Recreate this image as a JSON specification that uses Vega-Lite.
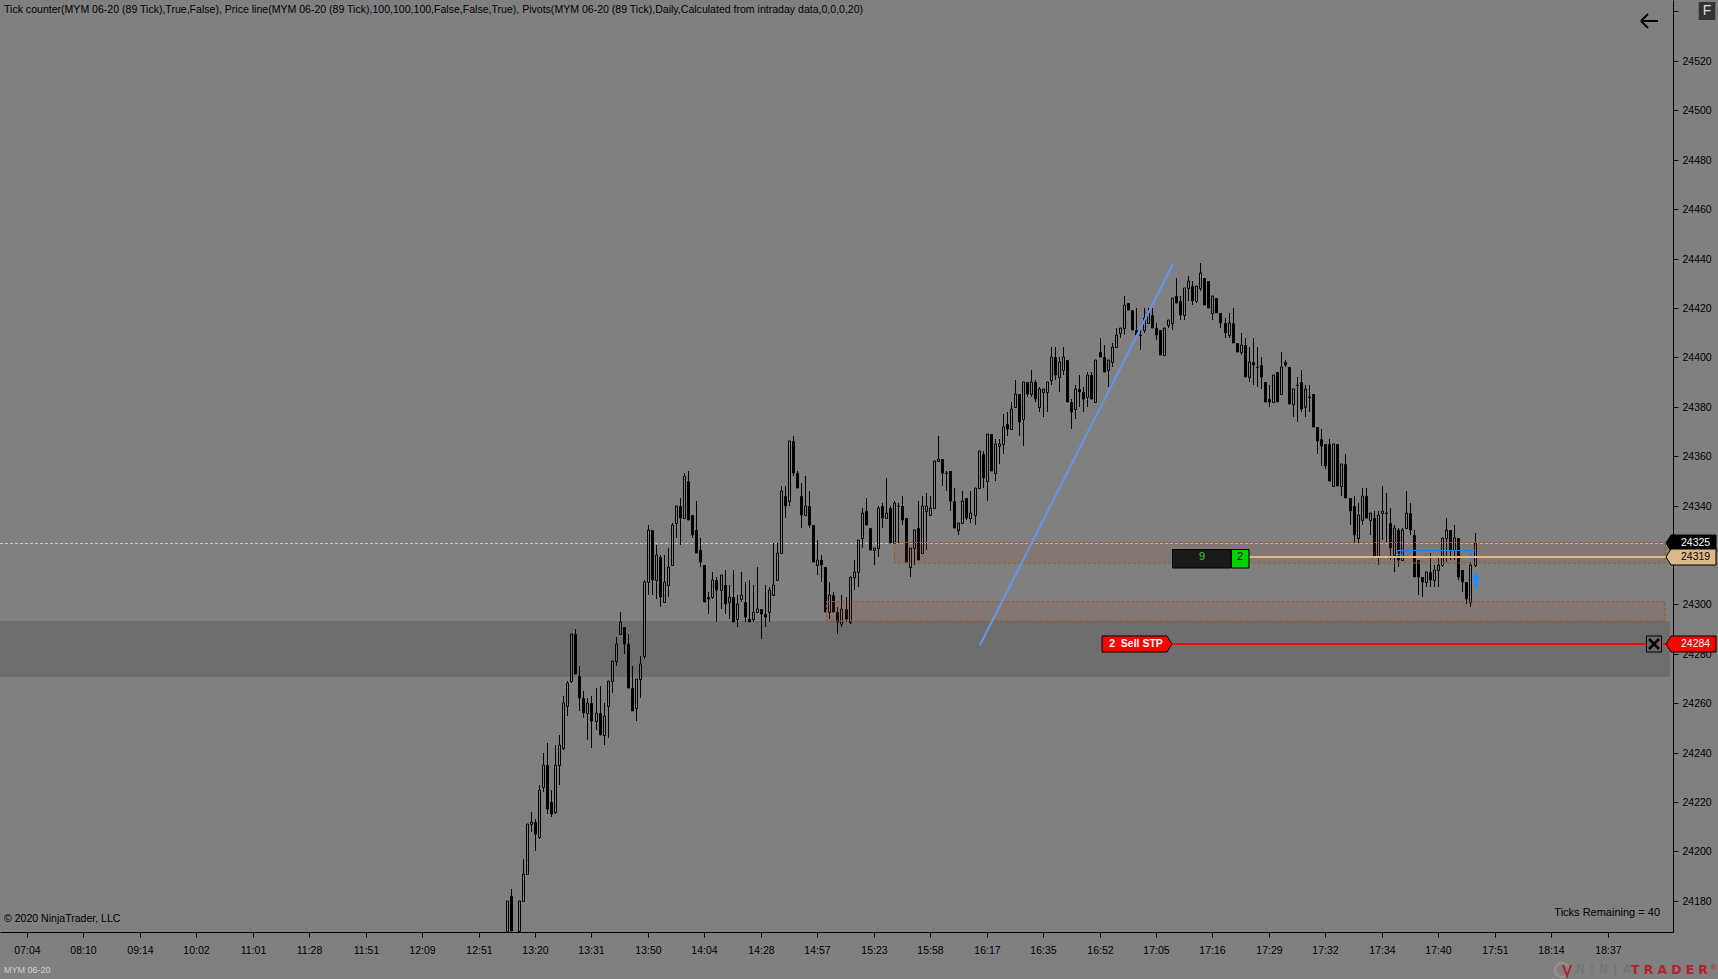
{
  "$schema": "https://vega.github.io/schema/vega-lite/v6.json",
  "width": 1673,
  "height": 932,
  "autosize": "none",
  "padding": {"left": 0, "top": 0, "right": 45, "bottom": 47},
  "background": "#808080",
  "config": {
    "view": {"stroke": null},
    "font": "Liberation Sans",
    "axis": {"title": null, "grid": false, "domainColor": "#000", "tickColor": "#000", "labelColor": "#000", "tickSize": 5, "labelFont": "Liberation Sans", "labelFontSize": 10.5}
  },
  "resolve": {"scale": {"fill": "independent", "color": "independent"}},
  "datasets": {
    "bars": [
      {"b":119,"o":24168,"h":24180,"l":24168,"c":24180},{"b":120,"o":24182,"h":24185,"l":24168,"c":24168},{"b":122,"o":24168,"h":24180,"l":24168,"c":24180},
      {"b":123,"o":24180,"h":24197,"l":24180,"c":24191},{"b":124,"o":24191,"h":24211,"l":24191,"c":24211},{"b":125,"o":24211,"h":24216,"l":24208,"c":24212},
      {"b":126,"o":24212,"h":24213,"l":24200,"c":24207},{"b":127,"o":24206,"h":24227,"l":24205,"c":24225},{"b":128,"o":24226,"h":24240,"l":24224,"c":24235},
      {"b":129,"o":24235,"h":24244,"l":24215,"c":24217},{"b":130,"o":24220,"h":24225,"l":24214,"c":24215},{"b":131,"o":24216,"h":24243,"l":24215,"c":24235},
      {"b":132,"o":24235,"h":24247,"l":24227,"c":24243},{"b":133,"o":24242,"h":24263,"l":24241,"c":24260},{"b":134,"o":24259,"h":24269,"l":24255,"c":24268},
      {"b":135,"o":24269,"h":24288,"l":24268,"c":24288},{"b":136,"o":24288,"h":24290,"l":24272,"c":24272},{"b":137,"o":24271,"h":24275,"l":24257,"c":24262},
      {"b":138,"o":24262,"h":24265,"l":24254,"c":24256},{"b":139,"o":24256,"h":24262,"l":24245,"c":24260},{"b":140,"o":24260,"h":24263,"l":24242,"c":24253},
      {"b":141,"o":24253,"h":24266,"l":24249,"c":24256},{"b":142,"o":24256,"h":24267,"l":24247,"c":24247},{"b":143,"o":24247,"h":24260,"l":24243,"c":24255},
      {"b":144,"o":24259,"h":24269,"l":24246,"c":24269},{"b":145,"o":24269,"h":24277,"l":24264,"c":24277},{"b":146,"o":24277,"h":24287,"l":24275,"c":24284},
      {"b":147,"o":24288,"h":24297,"l":24288,"c":24293},{"b":148,"o":24291,"h":24291,"l":24280,"c":24284},{"b":149,"o":24284,"h":24288,"l":24266,"c":24266},
      {"b":150,"o":24266,"h":24275,"l":24257,"c":24257},{"b":151,"o":24258,"h":24270,"l":24253,"c":24270},{"b":152,"o":24270,"h":24279,"l":24262,"c":24276},
      {"b":153,"o":24279,"h":24310,"l":24278,"c":24309},{"b":154,"o":24309,"h":24332,"l":24304,"c":24330},{"b":155,"o":24330,"h":24330,"l":24304,"c":24310},
      {"b":156,"o":24310,"h":24324,"l":24302,"c":24320},{"b":157,"o":24319,"h":24320,"l":24299,"c":24303},{"b":158,"o":24301,"h":24320,"l":24301,"c":24309},
      {"b":159,"o":24308,"h":24323,"l":24303,"c":24315},{"b":160,"o":24316,"h":24333,"l":24316,"c":24332},{"b":161,"o":24333,"h":24340,"l":24327,"c":24340},
      {"b":162,"o":24340,"h":24343,"l":24324,"c":24335},{"b":163,"o":24335,"h":24353,"l":24335,"c":24352},{"b":164,"o":24350,"h":24354,"l":24334,"c":24334},
      {"b":165,"o":24336,"h":24336,"l":24327,"c":24328},{"b":166,"o":24330,"h":24342,"l":24321,"c":24321},{"b":167,"o":24322,"h":24327,"l":24315,"c":24317},
      {"b":168,"o":24316,"h":24316,"l":24301,"c":24301},{"b":169,"o":24303,"h":24305,"l":24296,"c":24302},{"b":170,"o":24303,"h":24313,"l":24302,"c":24310},
      {"b":171,"o":24310,"h":24311,"l":24293,"c":24306},{"b":172,"o":24306,"h":24312,"l":24298,"c":24312},{"b":173,"o":24308,"h":24314,"l":24296,"c":24300},
      {"b":174,"o":24301,"h":24308,"l":24294,"c":24303},{"b":175,"o":24303,"h":24314,"l":24293,"c":24293},{"b":176,"o":24294,"h":24304,"l":24291,"c":24300},
      {"b":177,"o":24302,"h":24313,"l":24301,"c":24304},{"b":178,"o":24301,"h":24309,"l":24293,"c":24295},{"b":179,"o":24294,"h":24310,"l":24293,"c":24293},
      {"b":180,"o":24294,"h":24308,"l":24293,"c":24297},{"b":181,"o":24297,"h":24315,"l":24297,"c":24298},{"b":182,"o":24298,"h":24298,"l":24286,"c":24296},
      {"b":183,"o":24296,"h":24308,"l":24291,"c":24295},{"b":184,"o":24297,"h":24307,"l":24293,"c":24306},{"b":185,"o":24304,"h":24325,"l":24304,"c":24308},
      {"b":186,"o":24310,"h":24325,"l":24310,"c":24321},{"b":187,"o":24321,"h":24348,"l":24321,"c":24346},{"b":188,"o":24344,"h":24348,"l":24335,"c":24340},
      {"b":189,"o":24342,"h":24366,"l":24340,"c":24366},{"b":190,"o":24366,"h":24368,"l":24352,"c":24353},{"b":191,"o":24353,"h":24354,"l":24347,"c":24347},
      {"b":192,"o":24344,"h":24349,"l":24331,"c":24336},{"b":193,"o":24336,"h":24352,"l":24336,"c":24340},{"b":194,"o":24340,"h":24346,"l":24331,"c":24332},
      {"b":195,"o":24332,"h":24332,"l":24317,"c":24317},{"b":196,"o":24316,"h":24326,"l":24312,"c":24318},{"b":197,"o":24318,"h":24320,"l":24309,"c":24316},
      {"b":198,"o":24315,"h":24315,"l":24297,"c":24297},{"b":199,"o":24297,"h":24309,"l":24294,"c":24304},{"b":200,"o":24304,"h":24305,"l":24297,"c":24297},
      {"b":201,"o":24297,"h":24299,"l":24288,"c":24293},{"b":202,"o":24292,"h":24304,"l":24291,"c":24298},{"b":203,"o":24298,"h":24303,"l":24293,"c":24294},
      {"b":204,"o":24293,"h":24311,"l":24292,"c":24311},{"b":205,"o":24311,"h":24318,"l":24306,"c":24313},{"b":206,"o":24313,"h":24326,"l":24307,"c":24326},
      {"b":207,"o":24327,"h":24339,"l":24323,"c":24337},{"b":208,"o":24338,"h":24343,"l":24332,"c":24332},{"b":209,"o":24331,"h":24331,"l":24322,"c":24322},
      {"b":210,"o":24322,"h":24323,"l":24316,"c":24323},{"b":211,"o":24323,"h":24340,"l":24319,"c":24339},{"b":212,"o":24340,"h":24341,"l":24331,"c":24335},
      {"b":213,"o":24335,"h":24351,"l":24335,"c":24337},{"b":214,"o":24339,"h":24340,"l":24325,"c":24325},{"b":215,"o":24325,"h":24342,"l":24325,"c":24341},
      {"b":216,"o":24340,"h":24341,"l":24325,"c":24340},{"b":217,"o":24340,"h":24344,"l":24332,"c":24334},{"b":218,"o":24335,"h":24335,"l":24317,"c":24317},
      {"b":219,"o":24315,"h":24323,"l":24311,"c":24323},{"b":220,"o":24323,"h":24330,"l":24316,"c":24330},{"b":221,"o":24331,"h":24342,"l":24318,"c":24318},
      {"b":222,"o":24321,"h":24344,"l":24321,"c":24340},{"b":223,"o":24338,"h":24345,"l":24322,"c":24340},{"b":224,"o":24336,"h":24344,"l":24336,"c":24339},
      {"b":225,"o":24339,"h":24358,"l":24339,"c":24358},{"b":226,"o":24358,"h":24368,"l":24358,"c":24359},{"b":227,"o":24359,"h":24359,"l":24348,"c":24353},
      {"b":228,"o":24353,"h":24354,"l":24346,"c":24353},{"b":229,"o":24354,"h":24354,"l":24338,"c":24342},{"b":230,"o":24342,"h":24347,"l":24331,"c":24331},
      {"b":231,"o":24330,"h":24333,"l":24328,"c":24333},{"b":232,"o":24333,"h":24346,"l":24333,"c":24342},{"b":233,"o":24343,"h":24343,"l":24334,"c":24335},
      {"b":234,"o":24335,"h":24346,"l":24333,"c":24337},{"b":235,"o":24336,"h":24347,"l":24332,"c":24347},{"b":236,"o":24347,"h":24362,"l":24347,"c":24362},
      {"b":237,"o":24361,"h":24362,"l":24347,"c":24351},{"b":238,"o":24350,"h":24369,"l":24342,"c":24369},{"b":239,"o":24369,"h":24369,"l":24354,"c":24354},
      {"b":240,"o":24353,"h":24367,"l":24350,"c":24365},{"b":241,"o":24364,"h":24367,"l":24357,"c":24365},{"b":242,"o":24365,"h":24377,"l":24361,"c":24372},
      {"b":243,"o":24373,"h":24378,"l":24368,"c":24371},{"b":244,"o":24371,"h":24382,"l":24371,"c":24379},{"b":245,"o":24380,"h":24391,"l":24380,"c":24385},
      {"b":246,"o":24385,"h":24385,"l":24368,"c":24374},{"b":247,"o":24375,"h":24390,"l":24364,"c":24390},{"b":248,"o":24390,"h":24390,"l":24384,"c":24385},
      {"b":249,"o":24385,"h":24395,"l":24384,"c":24390},{"b":250,"o":24390,"h":24391,"l":24382,"c":24383},{"b":251,"o":24380,"h":24388,"l":24378,"c":24387},
      {"b":252,"o":24386,"h":24387,"l":24376,"c":24387},{"b":253,"o":24386,"h":24390,"l":24378,"c":24390},{"b":254,"o":24391,"h":24404,"l":24389,"c":24400},
      {"b":255,"o":24400,"h":24404,"l":24391,"c":24393},{"b":256,"o":24392,"h":24400,"l":24386,"c":24398},{"b":257,"o":24395,"h":24404,"l":24393,"c":24400},
      {"b":258,"o":24399,"h":24399,"l":24382,"c":24382},{"b":259,"o":24382,"h":24383,"l":24371,"c":24378},{"b":260,"o":24379,"h":24389,"l":24375,"c":24387},
      {"b":261,"o":24387,"h":24393,"l":24380,"c":24386},{"b":262,"o":24386,"h":24388,"l":24378,"c":24383},{"b":263,"o":24384,"h":24394,"l":24380,"c":24393},
      {"b":264,"o":24393,"h":24394,"l":24383,"c":24383},{"b":265,"o":24382,"h":24399,"l":24382,"c":24399},{"b":266,"o":24402,"h":24408,"l":24400,"c":24400},
      {"b":267,"o":24400,"h":24405,"l":24394,"c":24394},{"b":268,"o":24395,"h":24399,"l":24388,"c":24399},{"b":269,"o":24398,"h":24406,"l":24396,"c":24404},
      {"b":270,"o":24404,"h":24412,"l":24404,"c":24409},{"b":271,"o":24410,"h":24412,"l":24408,"c":24412},{"b":272,"o":24412,"h":24425,"l":24409,"c":24421},
      {"b":273,"o":24422,"h":24422,"l":24419,"c":24419},{"b":274,"o":24419,"h":24419,"l":24411,"c":24411},{"b":275,"o":24411,"h":24420,"l":24409,"c":24409},
      {"b":276,"o":24409,"h":24412,"l":24403,"c":24409},{"b":277,"o":24411,"h":24420,"l":24410,"c":24416},{"b":278,"o":24414,"h":24420,"l":24414,"c":24418},
      {"b":279,"o":24417,"h":24420,"l":24412,"c":24412},{"b":280,"o":24412,"h":24414,"l":24407,"c":24409},{"b":281,"o":24411,"h":24411,"l":24401,"c":24401},
      {"b":282,"o":24401,"h":24412,"l":24401,"c":24412},{"b":283,"o":24413,"h":24415,"l":24412,"c":24415},{"b":284,"o":24414,"h":24424,"l":24411,"c":24424},
      {"b":285,"o":24425,"h":24432,"l":24422,"c":24422},{"b":286,"o":24423,"h":24425,"l":24415,"c":24417},{"b":287,"o":24417,"h":24428,"l":24415,"c":24428},
      {"b":288,"o":24428,"h":24433,"l":24423,"c":24431},{"b":289,"o":24429,"h":24431,"l":24421,"c":24423},{"b":290,"o":24423,"h":24429,"l":24422,"c":24429},
      {"b":291,"o":24428,"h":24438,"l":24427,"c":24434},{"b":292,"o":24432,"h":24432,"l":24421,"c":24421},{"b":293,"o":24431,"h":24431,"l":24420,"c":24420},
      {"b":294,"o":24418,"h":24425,"l":24415,"c":24425},{"b":295,"o":24424,"h":24424,"l":24418,"c":24418},{"b":296,"o":24418,"h":24418,"l":24412,"c":24414},
      {"b":297,"o":24414,"h":24416,"l":24408,"c":24410},{"b":298,"o":24409,"h":24418,"l":24408,"c":24414},{"b":299,"o":24414,"h":24420,"l":24406,"c":24406},
      {"b":300,"o":24406,"h":24406,"l":24402,"c":24402},{"b":301,"o":24402,"h":24410,"l":24401,"c":24405},{"b":302,"o":24405,"h":24408,"l":24392,"c":24392},
      {"b":303,"o":24392,"h":24404,"l":24390,"c":24398},{"b":304,"o":24398,"h":24408,"l":24389,"c":24397},{"b":305,"o":24396,"h":24404,"l":24388,"c":24396},
      {"b":306,"o":24397,"h":24400,"l":24387,"c":24392},{"b":307,"o":24390,"h":24390,"l":24382,"c":24382},{"b":308,"o":24383,"h":24389,"l":24380,"c":24382},
      {"b":309,"o":24382,"h":24393,"l":24382,"c":24393},{"b":310,"o":24394,"h":24394,"l":24382,"c":24382},{"b":311,"o":24385,"h":24402,"l":24385,"c":24396},
      {"b":312,"o":24398,"h":24399,"l":24396,"c":24397},{"b":313,"o":24396,"h":24396,"l":24381,"c":24381},{"b":314,"o":24381,"h":24387,"l":24376,"c":24387},
      {"b":315,"o":24389,"h":24392,"l":24374,"c":24389},{"b":316,"o":24390,"h":24395,"l":24378,"c":24379},{"b":317,"o":24380,"h":24389,"l":24376,"c":24387},
      {"b":318,"o":24384,"h":24389,"l":24378,"c":24384},{"b":319,"o":24385,"h":24385,"l":24372,"c":24372},{"b":320,"o":24372,"h":24372,"l":24361,"c":24366},
      {"b":321,"o":24367,"h":24371,"l":24356,"c":24364},{"b":322,"o":24365,"h":24365,"l":24355,"c":24356},{"b":323,"o":24365,"h":24367,"l":24350,"c":24350},
      {"b":324,"o":24348,"h":24365,"l":24348,"c":24365},{"b":325,"o":24365,"h":24365,"l":24348,"c":24348},{"b":326,"o":24348,"h":24357,"l":24344,"c":24357},
      {"b":327,"o":24357,"h":24361,"l":24343,"c":24343},{"b":328,"o":24343,"h":24343,"l":24332,"c":24338},{"b":329,"o":24340,"h":24344,"l":24325,"c":24328},
      {"b":330,"o":24327,"h":24341,"l":24325,"c":24336},{"b":331,"o":24334,"h":24347,"l":24332,"c":24344},{"b":332,"o":24344,"h":24347,"l":24335,"c":24335},
      {"b":333,"o":24334,"h":24337,"l":24328,"c":24337},{"b":334,"o":24335,"h":24338,"l":24319,"c":24319},{"b":335,"o":24319,"h":24338,"l":24316,"c":24336},
      {"b":336,"o":24337,"h":24348,"l":24326,"c":24338},{"b":337,"o":24337,"h":24345,"l":24325,"c":24337},{"b":338,"o":24333,"h":24339,"l":24318,"c":24323},
      {"b":339,"o":24320,"h":24332,"l":24313,"c":24331},{"b":340,"o":24330,"h":24331,"l":24315,"c":24318},{"b":341,"o":24318,"h":24331,"l":24318,"c":24330},
      {"b":342,"o":24331,"h":24346,"l":24331,"c":24337},{"b":343,"o":24337,"h":24341,"l":24328,"c":24330},{"b":344,"o":24328,"h":24330,"l":24311,"c":24311},
      {"b":345,"o":24318,"h":24318,"l":24304,"c":24311},{"b":346,"o":24311,"h":24311,"l":24303,"c":24309},{"b":347,"o":24309,"h":24313,"l":24307,"c":24313},
      {"b":348,"o":24313,"h":24321,"l":24307,"c":24310},{"b":349,"o":24310,"h":24316,"l":24307,"c":24314},{"b":350,"o":24314,"h":24319,"l":24307,"c":24316},
      {"b":351,"o":24316,"h":24327,"l":24315,"c":24327},{"b":352,"o":24327,"h":24335,"l":24317,"c":24330},{"b":353,"o":24330,"h":24330,"l":24318,"c":24322},
      {"b":354,"o":24322,"h":24332,"l":24318,"c":24327},{"b":355,"o":24327,"h":24327,"l":24310,"c":24311},{"b":356,"o":24314,"h":24314,"l":24305,"c":24309},
      {"b":357,"o":24309,"h":24309,"l":24300,"c":24302},{"b":358,"o":24301,"h":24317,"l":24299,"c":24316},{"b":359,"o":24316,"h":24329,"l":24315,"c":24325}
    ]
  },
  "layer": [
    {
      "data": {"values": [{"b0": -6.7, "b1": 407.6, "p0": 24293.3, "p1": 24270.7}]},
      "mark": {"type": "rect", "fill": "#6e6e6e"},
      "encoding": {
        "x": {
          "field": "b0", "type": "quantitative",
          "scale": {"domain": [-6.696, 408.23], "nice": false, "zero": false, "round": true, "padding": 0},
          "axis": {
            "orient": "bottom",
            "values": [0,14,28,42,56,70,84,98,112,126,140,154,168,182,196,210,224,238,252,266,280,294,308,322,336,350,364,378,392],
            "labelExpr": "['07:04','08:10','09:14','10:02','11:01','11:28','11:51','12:09','12:51','13:20','13:31','13:50','14:04','14:28','14:57','15:23','15:58','16:17','16:35','16:52','17:05','17:16','17:29','17:32','17:34','17:40','17:51','18:14','18:37'][datum.value / 14]",
            "labelPadding": 8, "labelOverlap": false, "labelFlush": false
          }
        },
        "x2": {"field": "b1"},
        "y": {
          "field": "p0", "type": "quantitative",
          "scale": {"domain": [24167.41, 24544.65], "nice": false, "zero": false, "round": true},
          "axis": {
            "orient": "right",
            "values": [24180,24200,24220,24240,24260,24280,24300,24320,24340,24360,24380,24400,24420,24440,24460,24480,24500,24520,24540],
            "labelExpr": "datum.value > 24530 || datum.value == 24320 ? '' : datum.value",
            "labelPadding": 4, "labelOverlap": false, "labelFlush": false, "format": "d"
          }
        },
        "y2": {"field": "p1"}
      }
    },
    {
      "data": {"values": [{"p": 24325}]},
      "mark": {"type": "rule", "stroke": "#c8c8c8", "strokeWidth": 1, "strokeDash": [3, 2], "yOffset": 0.5},
      "encoding": {"y": {"field": "p", "type": "quantitative"}}
    },
    {
      "data": {"name": "bars"},
      "transform": [{"filter": "datum.c < datum.o"}],
      "mark": {"type": "rule", "stroke": "#000", "strokeWidth": 1, "xOffset": 0.5},
      "encoding": {"x": {"field": "b", "type": "quantitative"}, "y": {"field": "h", "type": "quantitative"}, "y2": {"field": "l"}}
    },
    {
      "data": {"name": "bars"},
      "transform": [{"filter": "datum.c >= datum.o"}],
      "mark": {"type": "rule", "stroke": "#000", "strokeWidth": 1, "xOffset": 0.5},
      "encoding": {"x": {"field": "b", "type": "quantitative"}, "y": {"field": "h", "type": "quantitative"}, "y2": {"field": "c"}}
    },
    {
      "data": {"name": "bars"},
      "transform": [{"filter": "datum.c >= datum.o"}],
      "mark": {"type": "rule", "stroke": "#000", "strokeWidth": 1, "xOffset": 0.5},
      "encoding": {"x": {"field": "b", "type": "quantitative"}, "y": {"field": "o", "type": "quantitative"}, "y2": {"field": "l"}}
    },
    {
      "data": {"name": "bars"},
      "transform": [{"filter": "datum.c < datum.o"}],
      "mark": {"type": "bar", "orient": "vertical", "size": 2, "fill": "#000", "stroke": "#000", "strokeWidth": 1, "xOffset": 0.5, "yOffset": 0.5},
      "encoding": {"x": {"field": "b", "type": "quantitative"}, "y": {"field": "o", "type": "quantitative"}, "y2": {"field": "c"}}
    },
    {
      "data": {"name": "bars"},
      "transform": [{"filter": "datum.c >= datum.o"}],
      "mark": {"type": "bar", "orient": "vertical", "size": 2, "fill": "transparent", "stroke": "#000", "strokeWidth": 1, "xOffset": 0.5, "yOffset": 0.5},
      "encoding": {"x": {"field": "b", "type": "quantitative"}, "y": {"field": "o", "type": "quantitative"}, "y2": {"field": "c"}}
    },
    {
      "data": {"values": [{"b0": 215, "b1": 406.3, "p0": 24325.3, "p1": 24316.6}, {"b0": 198.2, "b1": 406.3, "p0": 24301.4, "p1": 24293.3}]},
      "mark": {"type": "rect", "fill": "#8b4513", "fillOpacity": 0.14, "stroke": "#a0522d", "strokeWidth": 1, "strokeDash": [3, 2], "xOffset": 0.5, "yOffset": 0.5},
      "encoding": {"x": {"field": "b0", "type": "quantitative"}, "x2": {"field": "b1"}, "y": {"field": "p0", "type": "quantitative"}, "y2": {"field": "p1"}}
    },
    {
      "data": {"values": [{"b": 236.4, "p": 24283.5}, {"b": 284.2, "p": 24437.75}]},
      "mark": {"type": "line", "stroke": "#6495ed", "strokeWidth": 2},
      "encoding": {"x": {"field": "b", "type": "quantitative"}, "y": {"field": "p", "type": "quantitative"}}
    },
    {
      "data": {"values": [{"b0": 339.6, "b1": 359.2, "p": 24322}]},
      "mark": {"type": "rule", "stroke": "#1e7fe8", "strokeWidth": 1, "yOffset": 0.5},
      "encoding": {"x": {"field": "b0", "type": "quantitative"}, "x2": {"field": "b1"}, "y": {"field": "p", "type": "quantitative"}}
    },
    {
      "data": {"values": [{"b": 339.6, "p": 24320, "t": "R2"}]},
      "mark": {"type": "text", "align": "left", "baseline": "middle", "fontSize": 11, "fill": "#1e7fe8"},
      "encoding": {"x": {"field": "b", "type": "quantitative"}, "y": {"field": "p", "type": "quantitative"}, "text": {"field": "t"}}
    },
    {
      "data": {"values": [{"b": 358, "p": 24319}]},
      "mark": {"type": "point", "shape": "M0,-4.5 L4.5,0 L0,4.5 Z", "size": 4, "filled": true, "fill": "#1e7fe8", "stroke": null, "opacity": 1},
      "encoding": {"x": {"field": "b", "type": "quantitative"}, "y": {"field": "p", "type": "quantitative"}}
    },
    {
      "data": {"values": [{"b": 359.25, "p": 24313}]},
      "mark": {"type": "point", "shape": "M0,0 L4.5,7 H2 V15 H-2 V7 H-4.5 Z", "size": 4, "filled": true, "fill": "#1e90ff", "stroke": null, "opacity": 1},
      "encoding": {"x": {"field": "b", "type": "quantitative"}, "y": {"field": "p", "type": "quantitative"}}
    },
    {
      "data": {"values": [{"b0": 303, "b1": 406.6, "p": 24319}]},
      "mark": {"type": "rule", "stroke": "#deb887", "strokeWidth": 2},
      "encoding": {"x": {"field": "b0", "type": "quantitative"}, "x2": {"field": "b1"}, "y": {"field": "p", "type": "quantitative"}}
    },
    {
      "data": {"values": [{"b0": 284, "b1": 406.6, "p": 24284}]},
      "mark": {"type": "rule", "stroke": "#ff0000", "strokeWidth": 2},
      "encoding": {"x": {"field": "b0", "type": "quantitative"}, "x2": {"field": "b1"}, "y": {"field": "p", "type": "quantitative"}}
    },
    {
      "data": {"values": [{"b0": 284, "b1": 298.7, "p0": 24322.6, "p1": 24314.8, "part": "count"}, {"b0": 298.7, "b1": 303, "p0": 24322.6, "p1": 24314.8, "part": "qty"}]},
      "mark": {"type": "rect", "stroke": "#000", "strokeWidth": 1, "xOffset": 0.5, "yOffset": 0.5},
      "encoding": {
        "x": {"field": "b0", "type": "quantitative"}, "x2": {"field": "b1"},
        "y": {"field": "p0", "type": "quantitative"}, "y2": {"field": "p1"},
        "fill": {"field": "part", "type": "nominal", "scale": {"domain": ["count", "qty"], "range": ["#1a1a1a", "#00d400"]}, "legend": null}
      }
    },
    {
      "data": {"values": [{"b": 291.5, "p": 24319, "t": "9", "part": "count"}, {"b": 300.9, "p": 24319, "t": "2", "part": "qty"}]},
      "mark": {"type": "text", "align": "center", "baseline": "middle", "fontSize": 11},
      "encoding": {
        "x": {"field": "b", "type": "quantitative"}, "y": {"field": "p", "type": "quantitative"}, "text": {"field": "t"},
        "color": {"field": "part", "type": "nominal", "scale": {"domain": ["count", "qty"], "range": ["#32cd32", "#000000"]}, "legend": null}
      }
    },
    {
      "data": {"values": [{"b": 275.3, "p": 24284}]},
      "mark": {"type": "point", "shape": "M-35,-8 H30 L35,0 L30,8 H-35 Z", "size": 4, "filled": true, "fill": "#ff0000", "stroke": "#000", "strokeWidth": 1, "opacity": 1},
      "encoding": {"x": {"field": "b", "type": "quantitative"}, "y": {"field": "p", "type": "quantitative"}}
    },
    {
      "data": {"values": [{"b": 275, "p": 24284, "t": "2\u00a0\u00a0Sell STP"}]},
      "mark": {"type": "text", "align": "center", "baseline": "middle", "fontSize": 10.5, "fontWeight": "bold", "fill": "#fff"},
      "encoding": {"x": {"field": "b", "type": "quantitative"}, "y": {"field": "p", "type": "quantitative"}, "text": {"field": "t"}}
    },
    {
      "data": {"values": [{"b": 403.4, "p": 24284}]},
      "mark": {"type": "point", "shape": "M-7.5,-8 H7.5 V8 H-7.5 Z", "size": 4, "filled": true, "fill": "#6a6a6a", "stroke": "#000", "strokeWidth": 1, "opacity": 1},
      "encoding": {"x": {"field": "b", "type": "quantitative"}, "y": {"field": "p", "type": "quantitative"}}
    },
    {
      "data": {"values": [{"b": 403.4, "p": 24284}]},
      "mark": {"type": "point", "shape": "M-5,-5 L5,5 M-5,5 L5,-5", "size": 4, "filled": false, "stroke": "#000", "strokeWidth": 2.5, "opacity": 1},
      "encoding": {"x": {"field": "b", "type": "quantitative"}, "y": {"field": "p", "type": "quantitative"}}
    },
    {
      "data": {"values": [{"b": 406.55, "p": 24325, "kind": "last"}, {"b": 406.55, "p": 24319, "kind": "position"}, {"b": 406.55, "p": 24284, "kind": "order"}]},
      "mark": {"type": "point", "shape": "M0,0 L5,-8 H50 V8 H5 Z", "size": 4, "filled": true, "stroke": "#000", "strokeWidth": 1, "opacity": 1},
      "encoding": {
        "x": {"field": "b", "type": "quantitative"}, "y": {"field": "p", "type": "quantitative"},
        "fill": {"field": "kind", "type": "nominal", "scale": {"domain": ["last", "position", "order"], "range": ["#000000", "#deb887", "#ff0000"]}, "legend": null}
      }
    },
    {
      "data": {"values": [{"b": 410.3, "p": 24325, "kind": "last"}, {"b": 410.3, "p": 24319, "kind": "position"}, {"b": 410.3, "p": 24284, "kind": "order"}]},
      "mark": {"type": "text", "align": "left", "baseline": "middle", "fontSize": 10.5},
      "encoding": {
        "x": {"field": "b", "type": "quantitative"}, "y": {"field": "p", "type": "quantitative"},
        "text": {"field": "p", "type": "quantitative", "format": "d"},
        "color": {"field": "kind", "type": "nominal", "scale": {"domain": ["last", "position", "order"], "range": ["#ffffff", "#000000", "#ffffff"]}, "legend": null}
      }
    },
    {
      "data": {"values": [
        {"b": -5.58, "p": 24540.5, "t": "Tick counter(MYM 06-20 (89 Tick),True,False), Price line(MYM 06-20 (89 Tick),100,100,100,False,False,True), Pivots(MYM 06-20 (89 Tick),Daily,Calculated from intraday data,0,0,0,20)"},
        {"b": -5.7, "p": 24172.5, "t": "\u00a9 2020 NinjaTrader, LLC"}
      ]},
      "mark": {"type": "text", "align": "left", "baseline": "middle", "fontSize": 10.55, "fill": "#000"},
      "encoding": {"x": {"field": "b", "type": "quantitative"}, "y": {"field": "p", "type": "quantitative"}, "text": {"field": "t"}}
    },
    {
      "data": {"values": [{"b": 404.9, "p": 24174.9, "t": "Ticks Remaining = 40"}]},
      "mark": {"type": "text", "align": "right", "baseline": "middle", "fontSize": 11, "fill": "#000"},
      "encoding": {"x": {"field": "b", "type": "quantitative"}, "y": {"field": "p", "type": "quantitative"}, "text": {"field": "t"}}
    },
    {
      "data": {"values": [{"b": -5.8, "p": 24152.1, "t": "MYM 06-20"}]},
      "mark": {"type": "text", "align": "left", "baseline": "middle", "fontSize": 9, "fill": "#cfcfcf"},
      "encoding": {"x": {"field": "b", "type": "quantitative"}, "y": {"field": "p", "type": "quantitative"}, "text": {"field": "t"}}
    },
    {
      "data": {"values": [{"b": 402.4, "p": 24536}]},
      "mark": {"type": "point", "shape": "M-8,0 H9 M-8,0 L-1,-7 M-8,0 L-1,7", "size": 4, "filled": false, "stroke": "#000", "strokeWidth": 2, "opacity": 1},
      "encoding": {"x": {"field": "b", "type": "quantitative"}, "y": {"field": "p", "type": "quantitative"}}
    },
    {
      "data": {"values": [{"b": 416.7, "p": 24540}]},
      "mark": {"type": "point", "shape": "M-8.3,-9 H8.3 V9 H-8.3 Z", "size": 4, "filled": true, "fill": "#333333", "stroke": null, "opacity": 1},
      "encoding": {"x": {"field": "b", "type": "quantitative"}, "y": {"field": "p", "type": "quantitative"}}
    },
    {
      "data": {"values": [{"b": 416.7, "p": 24540, "t": "F"}]},
      "mark": {"type": "text", "align": "center", "baseline": "middle", "fontSize": 14, "fill": "#dddddd"},
      "encoding": {"x": {"field": "b", "type": "quantitative"}, "y": {"field": "p", "type": "quantitative"}, "text": {"field": "t"}}
    },
    {
      "data": {"values": [{"b": 380.7, "p": 24152}]},
      "mark": {"type": "point", "shape": "circle", "size": 200, "filled": false, "stroke": "#a08f86", "strokeWidth": 2, "opacity": 1},
      "encoding": {"x": {"field": "b", "type": "quantitative"}, "y": {"field": "p", "type": "quantitative"}}
    },
    {
      "data": {"values": [{"b": 382, "p": 24152}]},
      "mark": {"type": "point", "shape": "M-4,-5 L0,6 L4,-5", "size": 4, "filled": false, "stroke": "#b5222d", "strokeWidth": 2, "opacity": 1},
      "encoding": {"x": {"field": "b", "type": "quantitative"}, "y": {"field": "p", "type": "quantitative"}}
    },
    {
      "data": {"values": [{"b": 384.2, "p": 24152, "t": "N\u2002I\u2002N\u2002J\u2002A"}]},
      "mark": {"type": "text", "align": "left", "baseline": "middle", "font": "DejaVu Sans", "fontSize": 11.5, "fill": "#707070"},
      "encoding": {"x": {"field": "b", "type": "quantitative"}, "y": {"field": "p", "type": "quantitative"}, "text": {"field": "t"}}
    },
    {
      "data": {"values": [{"b": 397.7, "p": 24152, "t": "T\u2004R\u2004A\u2004D\u2004E\u2004R"}]},
      "mark": {"type": "text", "align": "left", "baseline": "middle", "font": "DejaVu Sans", "fontWeight": "bold", "fontSize": 12.5, "fill": "#b5222d"},
      "encoding": {"x": {"field": "b", "type": "quantitative"}, "y": {"field": "p", "type": "quantitative"}, "text": {"field": "t"}}
    },
    {
      "data": {"values": [{"b": 417.6, "p": 24153, "t": "\u00ae"}]},
      "mark": {"type": "text", "align": "left", "baseline": "middle", "fontSize": 7, "fill": "#b5222d"},
      "encoding": {"x": {"field": "b", "type": "quantitative"}, "y": {"field": "p", "type": "quantitative"}, "text": {"field": "t"}}
    }
  ]
}
